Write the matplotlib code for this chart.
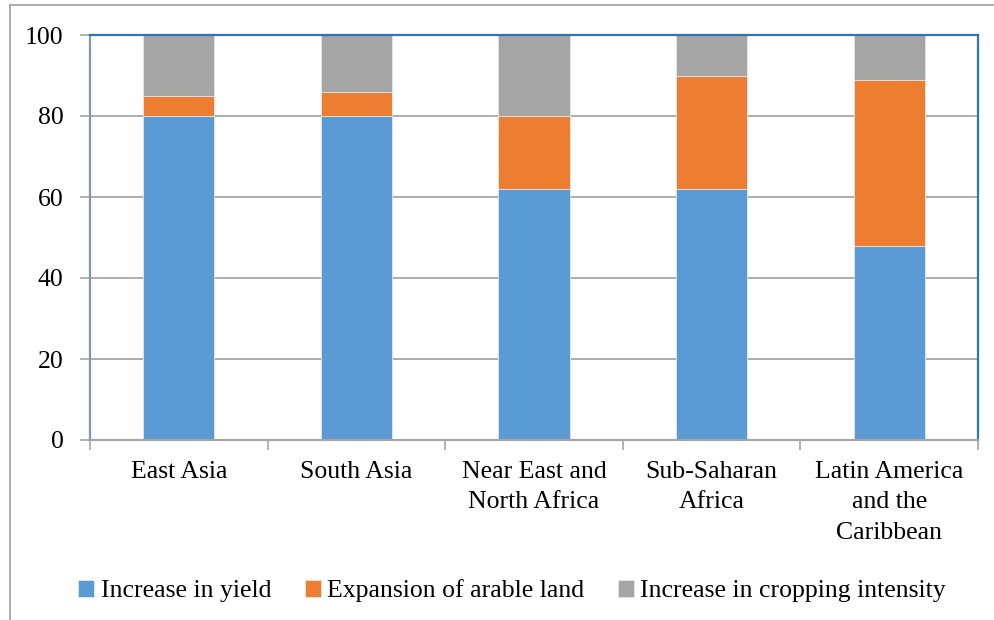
import numpy as np
import matplotlib.pyplot as plt
from matplotlib.lines import Line2D

plt.rcParams['font.family'] = ['Liberation Serif', 'DejaVu Serif']

# Data (percent shares)
regions = ['East Asia', 'South Asia', 'Near East and\nNorth Africa',
           'Sub-Saharan\nAfrica', 'Latin America\nand the\nCaribbean']
yield_inc = [80, 80, 62, 62, 48]
arable_exp = [5, 6, 18, 28, 41]
cropping_inc = [15, 14, 20, 10, 11]
series_names = ['Increase in yield', 'Expansion of arable land',
                'Increase in cropping intensity']
colors = ['#5B9BD5', '#ED7D31', '#A5A5A5']

fig = plt.figure(figsize=(9.95, 6.2), dpi=100)
ax = fig.add_axes([90 / 995, 1 - 440 / 620, 888 / 995, 405 / 620])

x = np.arange(len(regions))
bottom = np.zeros(len(regions))
for vals, name, c in zip([yield_inc, arable_exp, cropping_inc], series_names, colors):
    ax.bar(x, vals, width=0.4, bottom=bottom, color=c, label=name,
           edgecolor='#E6E6E6', linewidth=0.6, zorder=2)
    bottom += np.array(vals)

ax.set_xlim(-0.5, len(regions) - 0.5)
ax.set_ylim(0, 100)
ax.set_yticks(np.arange(0, 101, 20))
ax.yaxis.grid(True, color='#A6A6A6', linewidth=1.3, zorder=0)
ax.set_axisbelow(True)

ax.set_xticks(x)
ax.set_xticklabels(regions, fontsize=18.5, linespacing=1.5)
ax.set_xticks(np.arange(-0.5, len(regions)), minor=True)
ax.tick_params(axis='x', which='major', length=0, pad=15)
ax.tick_params(axis='x', which='minor', length=7, width=1.2, color='#A6A6A6',
               direction='out')
ax.tick_params(axis='y', length=7, width=1.2, color='#A6A6A6', labelsize=18.5,
               pad=12)

ax.spines['top'].set_color('#2E75B6')
ax.spines['right'].set_color('#2E75B6')
ax.spines['top'].set_linewidth(1.6)
ax.spines['right'].set_linewidth(1.6)
ax.spines['left'].set_color('#7F97B2')
ax.spines['left'].set_linewidth(1.6)
ax.spines['bottom'].set_color('#A6A6A6')
ax.spines['bottom'].set_linewidth(1.6)

leg = fig.legend(loc='center', bbox_to_anchor=(512 / 995, 1 - 591 / 620), ncol=3,
                 frameon=False, fontsize=18.5, handlelength=0.62, handleheight=0.62,
                 handletextpad=0.25, columnspacing=1.3)

# outer chart frame
fig.add_artist(Line2D([10 / 995, 10 / 995], [0, 1 - 5 / 620], transform=fig.transFigure,
                      color='#A6A6A6', linewidth=1.3))
fig.add_artist(Line2D([10 / 995, 1], [1 - 5 / 620, 1 - 5 / 620], transform=fig.transFigure,
                      color='#A6A6A6', linewidth=1.3))

fig.savefig('out.png', dpi=100)
